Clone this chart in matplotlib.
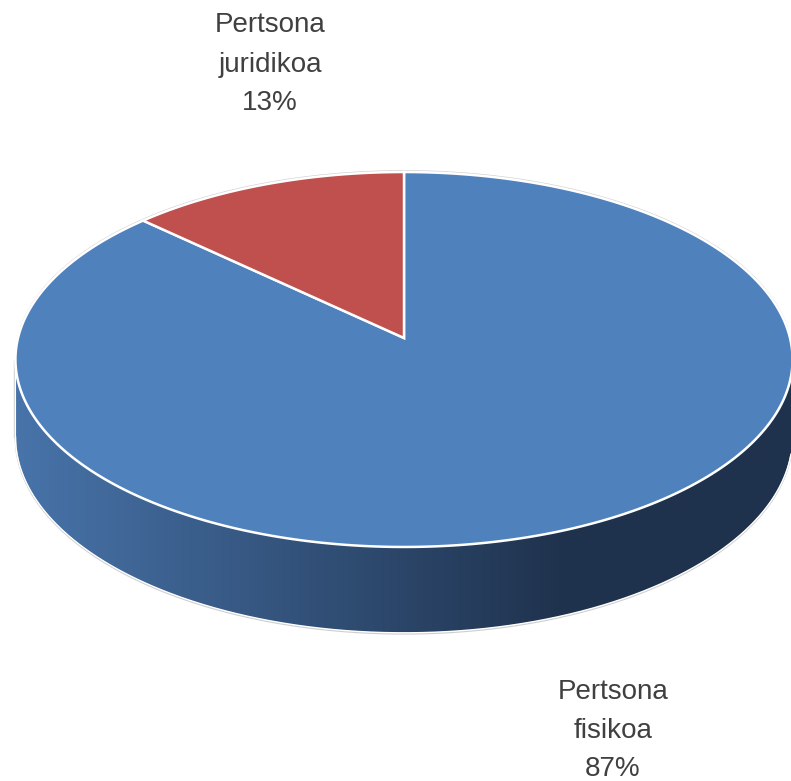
import numpy as np
import matplotlib
matplotlib.use("Agg")
import matplotlib.pyplot as plt
from matplotlib.patches import Polygon

# ---- data ----
categories = ["Pertsona fisikoa", "Pertsona juridikoa"]
values = [87, 13]
label_lines = [["Pertsona", "fisikoa", "87%"], ["Pertsona", "juridikoa", "13%"]]

top_colors = ["#4F81BD", "#C0504D"]
side_light = np.array([72, 116, 170]) / 255
side_dark = np.array([31, 50, 77]) / 255

# ---- geometry (pixel space) ----
cx, cy = 404.0, 338.0
A, B, k, H = 386.0, 185.0, 0.1147, 76.0

def proj(t, depth):
    X = np.cos(t)
    Z = np.sin(t)
    w = 1 + k * Z
    return cx + A * X / w, cy + (-B * Z + H * depth) / w

fig = plt.figure(figsize=(7.91, 7.81), dpi=100)
ax = fig.add_axes([0, 0, 1, 1])
ax.set_xlim(0, 791)
ax.set_ylim(781, 0)
ax.axis("off")

total = float(sum(values))
starts, ends = [], []
a = 90.0
for v in values:
    e = a - 360.0 * v / total
    starts.append(a)
    ends.append(e)
    a = e

# ---- side region: silhouette of the front wall ----
tf = np.radians(np.linspace(150, 390, 2000))
xt, yt = proj(tf, 0)
xbb, ybb = proj(tf, 1)
iLt, iRt = np.argmin(xt), np.argmax(xt)
iLb, iRb = np.argmin(xbb), np.argmax(xbb)
bottom_pts = list(zip(xbb[iLb:iRb + 1], ybb[iLb:iRb + 1]))
top_pts = list(zip(xt[iLt:iRt + 1], yt[iLt:iRt + 1]))[::-1]
side_poly = Polygon(bottom_pts + top_pts, closed=True, facecolor="none",
                    edgecolor="none", transform=ax.transData)
ax.add_patch(side_poly)

# horizontal gradient image clipped to the side region
xg = np.linspace(0, 791, 800)
frac = np.clip((xg - 15) / (565 - 15), 0, 1)
grad = side_light[None, :] * (1 - frac[:, None]) + side_dark[None, :] * frac[:, None]
img = ax.imshow(grad[None, :, :], extent=(0, 791, 700, 250), aspect="auto",
                interpolation="bilinear", zorder=2)
img.set_clip_path(side_poly)
ax.set_xlim(0, 791)
ax.set_ylim(781, 0)

# side outline (bottom edge and vertical silhouette)
sx = [p[0] for p in bottom_pts]
sy = [p[1] for p in bottom_pts]
ax.plot(sx, np.array(sy) + 1.0, color="#cfcfcf", lw=1.2, zorder=3,
        solid_capstyle="round")
ax.plot(sx, sy, color="white", lw=1.0, zorder=3)
for (xa, ya), (xb_, yb_) in [((xt[iLt], yt[iLt]), (xbb[iLb], ybb[iLb])),
                             ((xt[iRt], yt[iRt]), (xbb[iRb], ybb[iRb]))]:
    off = -1.0 if xa < cx else 1.0
    ax.plot([xa + off, xb_ + off], [ya, yb_], color="#d5d5d5", lw=1.0, zorder=3)
    ax.plot([xa, xb_], [ya, yb_], color="white", lw=0.8, zorder=3)

# ---- top faces ----
for i, (s, e) in enumerate(zip(starts, ends)):
    tt = np.radians(np.linspace(s, e, 400))
    xs, ys = proj(tt, 0)
    pts = [(cx, cy)] + list(zip(xs, ys))
    ax.add_patch(Polygon(pts, closed=True, facecolor=top_colors[i],
                         edgecolor="white", lw=1.8, joinstyle="miter", zorder=4))

# outer faint outline of top ellipse (back part)
tt = np.radians(np.linspace(0, 180, 400))
xs, ys = proj(tt, 0)
ax.plot(xs, ys - 1.2, color="#d0d0d0", lw=1.0, zorder=3)

# ---- labels ----
label_pos = [(613, [699, 738, 776]), (270, [32, 72, 110])]
for i, lines in enumerate(label_lines):
    x, ys_ = label_pos[i]
    for line, y in zip(lines, ys_):
        ax.text(x, y, line, ha="center", va="baseline", fontsize=20,
                family="Liberation Sans", color="#404040", zorder=5)

fig.savefig("out.png", dpi=100)
